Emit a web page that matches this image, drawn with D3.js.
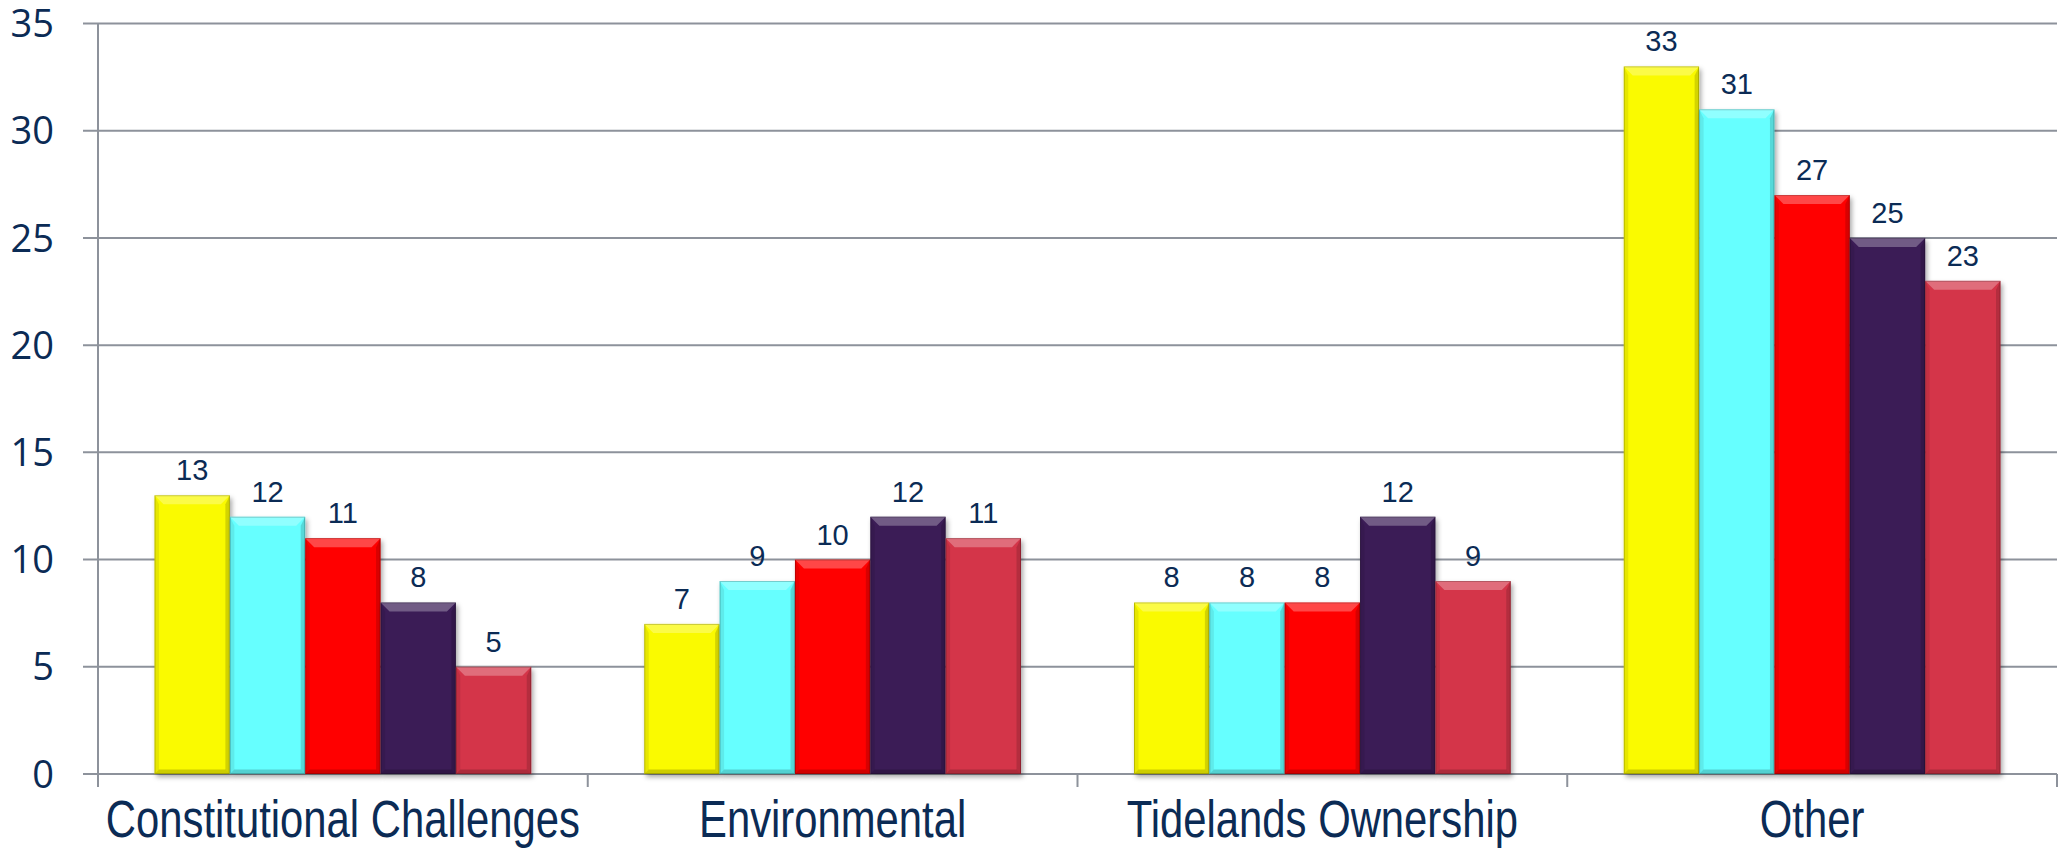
<!DOCTYPE html>
<html>
<head>
<meta charset="utf-8">
<script src="https://cdn.jsdelivr.net/npm/d3@7"></script>
<style>
  body { margin: 0; background: #fff; }
  svg { display: block; }
</style>
</head>
<body>
<div id="chart"></div>
<script>
// Categories and the five series
var categories = ["Constitutional Challenges", "Environmental", "Tidelands Ownership", "Other"];
var seriesNames = ["s1", "s2", "s3", "s4", "s5"];
var seriesColors = ["#FAFA00", "#66FFFF", "#FF0000", "#3B1F57", "#D43448"];
var values = [
  [13, 12, 11, 8, 5],
  [7, 9, 10, 12, 11],
  [8, 8, 8, 12, 9],
  [33, 31, 27, 25, 23]
];
var yTicks = [0, 5, 10, 15, 20, 25, 30, 35];

// SVG area
var svgWidth = 2061;
var svgHeight = 851;
var margin = { top: 23.5, right: 4, bottom: 77, left: 98 };
var chartWidth = svgWidth - margin.left - margin.right;
var chartHeight = svgHeight - margin.top - margin.bottom;

var textColor = "#0B2B55";
var gridColor = "#8D929B";

var svg = d3.select("#chart").append("svg")
  .attr("width", svgWidth)
  .attr("height", svgHeight);

// drop shadow for the bars
var defs = svg.append("defs");
defs.append("filter")
  .attr("id", "shadow")
  .attr("x", "-10%").attr("y", "-10%")
  .attr("width", "130%").attr("height", "130%")
  .append("feDropShadow")
  .attr("dx", 2).attr("dy", 3)
  .attr("stdDeviation", 2.5)
  .attr("flood-color", "#000")
  .attr("flood-opacity", 0.35);

var chartGroup = svg.append("g")
  .attr("transform", `translate(${margin.left}, ${margin.top})`);

// scales
var x0 = d3.scaleBand().domain(categories).range([0, chartWidth]).paddingInner(0).paddingOuter(0);
// gap width 150% -> 0.75 bar on each side
var barW = x0.bandwidth() / (seriesNames.length + 1.5);
var x1 = d3.scaleBand().domain(seriesNames)
  .range([0.75 * barW, x0.bandwidth() - 0.75 * barW]);
var y = d3.scaleLinear().domain([0, 35]).range([chartHeight, 0]);

// gridlines with little ticks on the left
chartGroup.append("g")
  .selectAll("line")
  .data(yTicks)
  .enter()
  .append("line")
  .attr("x1", -15)
  .attr("x2", chartWidth)
  .attr("y1", (d) => y(d))
  .attr("y2", (d) => y(d))
  .attr("stroke", gridColor)
  .attr("stroke-width", 2);

// y axis line
chartGroup.append("line")
  .attr("x1", 0).attr("x2", 0)
  .attr("y1", 0).attr("y2", chartHeight + 13)
  .attr("stroke", gridColor)
  .attr("stroke-width", 2);

// category separator ticks
chartGroup.append("g")
  .selectAll("line")
  .data(categories.slice(1).concat(["__end"]))
  .enter()
  .append("line")
  .attr("x1", (d, i) => i < categories.length - 1 ? x0(d) : chartWidth)
  .attr("x2", (d, i) => i < categories.length - 1 ? x0(d) : chartWidth)
  .attr("y1", chartHeight)
  .attr("y2", chartHeight + 13)
  .attr("stroke", gridColor)
  .attr("stroke-width", 2);

// y tick labels
chartGroup.append("g")
  .selectAll("text")
  .data(yTicks)
  .enter()
  .append("text")
  .attr("x", -44)
  .attr("y", (d) => y(d))
  .attr("dy", "0.36em")
  .attr("text-anchor", "end")
  .attr("font-family", "'Open Sans', sans-serif")
  .attr("font-size", 38)
  .attr("fill", textColor)
  .text((d) => d);

// x category labels (slightly condensed Arial look)
chartGroup.append("g")
  .selectAll("text")
  .data(categories)
  .enter()
  .append("text")
  .attr("transform", (d) => `translate(${x0(d) + x0.bandwidth() / 2}, ${chartHeight + 63}) scale(0.82, 1)`)
  .attr("text-anchor", "middle")
  .attr("font-family", "'Liberation Sans', Arial, sans-serif")
  .attr("font-size", 51)
  .attr("fill", textColor)
  .text((d) => d);

// bars
var groups = chartGroup.selectAll(".cat")
  .data(values)
  .enter()
  .append("g")
  .attr("class", "cat")
  .attr("transform", (d, i) => `translate(${x0(categories[i])}, 0)`);

var bev = 9;

var bars = groups.selectAll(".bar")
  .data((d) => d.map((v, j) => ({ v: v, s: seriesNames[j], c: seriesColors[j] })))
  .enter()
  .append("g")
  .attr("class", "bar");

bars.append("rect")
  .attr("x", (d) => x1(d.s))
  .attr("y", (d) => y(d.v))
  .attr("width", x1.bandwidth())
  .attr("height", (d) => chartHeight - y(d.v))
  .attr("fill", (d) => d.c)
  .attr("filter", "url(#shadow)");

// bevel: lighter top, darker sides and bottom
function bevelPoly(d, side) {
  var l = x1(d.s), r = l + x1.bandwidth(), t = y(d.v), b = chartHeight;
  if (side === "top") return [[l, t], [r, t], [r - bev, t + bev], [l + bev, t + bev]];
  if (side === "left") return [[l, t], [l + bev * 0.5, t + bev], [l + bev * 0.5, b - bev * 0.5], [l, b]];
  if (side === "right") return [[r, t], [r - bev * 0.5, t + bev], [r - bev * 0.5, b - bev * 0.5], [r, b]];
  return [[l, b], [r, b], [r - bev * 0.5, b - bev * 0.5], [l + bev * 0.5, b - bev * 0.5]];
}

var bevels = [
  { side: "top", fill: "#fff", op: 0.28 },
  { side: "left", fill: "#000", op: 0.08 },
  { side: "right", fill: "#000", op: 0.15 },
  { side: "bottom", fill: "#000", op: 0.18 }
];

bevels.forEach((bv) => {
  bars.append("polygon")
    .attr("points", (d) => bevelPoly(d, bv.side).map((p) => p.join(",")).join(" "))
    .attr("fill", bv.fill)
    .attr("fill-opacity", bv.op);
});

// thin outline
bars.append("rect")
  .attr("x", (d) => x1(d.s) + 0.5)
  .attr("y", (d) => y(d.v) + 0.5)
  .attr("width", x1.bandwidth() - 1)
  .attr("height", (d) => chartHeight - y(d.v) - 1)
  .attr("fill", "none")
  .attr("stroke", "#000")
  .attr("stroke-opacity", 0.2)
  .attr("stroke-width", 1);

// value labels
bars.append("text")
  .attr("x", (d) => x1(d.s) + x1.bandwidth() / 2)
  .attr("y", (d) => y(d.v) - 15)
  .attr("text-anchor", "middle")
  .attr("font-family", "'Liberation Sans', Arial, sans-serif")
  .attr("font-size", 29)
  .attr("fill", textColor)
  .text((d) => d.v);
</script>
</body>
</html>
